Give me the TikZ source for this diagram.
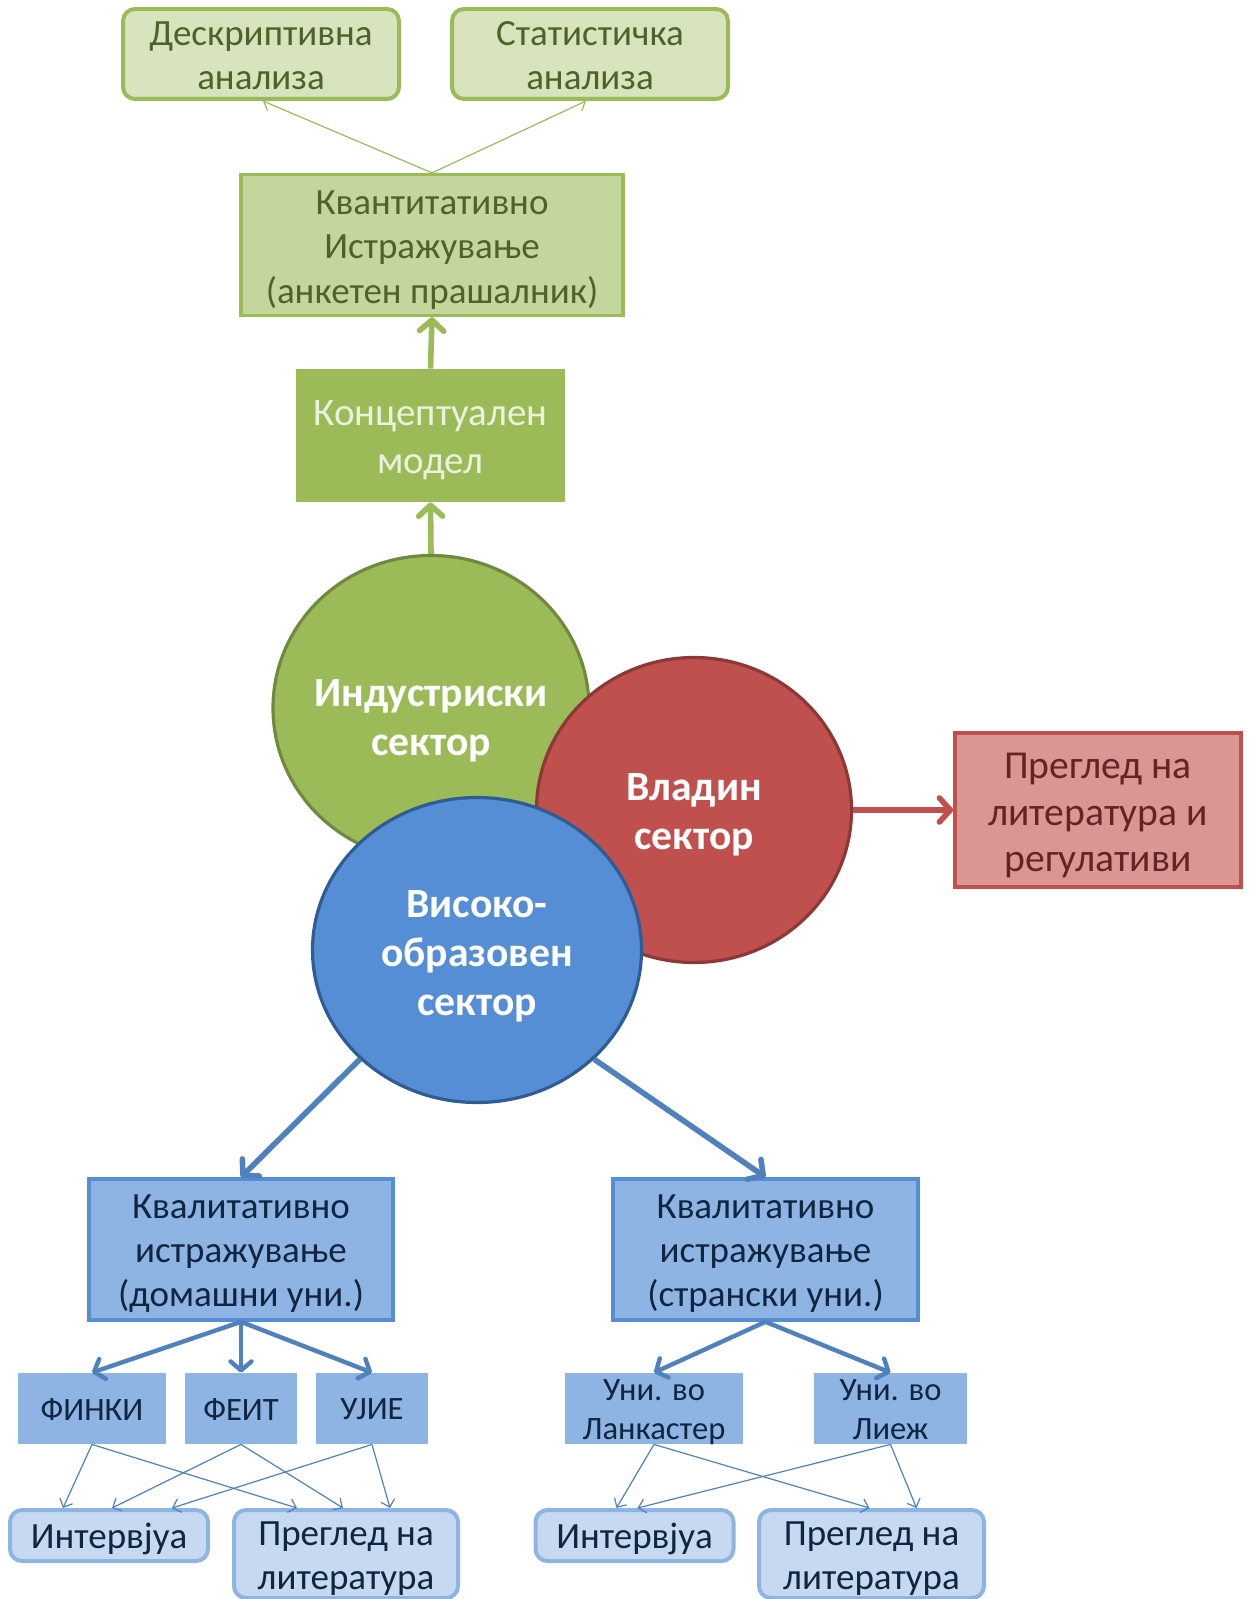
\documentclass[tikz,border=0pt]{standalone}
\usepackage{fontspec}
\setmainfont{Carlito}
\usetikzlibrary{arrows.meta,shapes.geometric,calc}

\definecolor{grnFill}{HTML}{9BBB59}
\definecolor{grnEdge}{HTML}{71893F}
\definecolor{grnMid}{HTML}{C3D69B}
\definecolor{grnLight}{HTML}{D7E4BD}
\definecolor{grnText}{HTML}{4F6228}
\definecolor{grnPale}{HTML}{EBF1DE}
\definecolor{redFill}{HTML}{C0504D}
\definecolor{redEdge}{HTML}{8C3836}
\definecolor{redLight}{HTML}{D99694}
\definecolor{redText}{HTML}{632523}
\definecolor{bluFill}{HTML}{558ED5}
\definecolor{bluEdge}{HTML}{2F5C92}
\definecolor{bluBox}{HTML}{8EB4E3}
\definecolor{bluLight}{HTML}{C6D9F1}
\definecolor{bluLine}{HTML}{4F81BD}
\definecolor{bluText}{HTML}{10253F}

\tikzset{
  % shapes (text is set in separate nodes so it can sit a little low, as in slides)
  shp/.style={inner sep=0pt},
  topbox/.style={shp, draw=grnFill, fill=grnLight, line width=2pt, rounded corners=6pt,
    minimum width=138pt, minimum height=45pt},
  quantbox/.style={shp, draw=grnFill, fill=grnMid, line width=1.6pt,
    minimum width=191pt, minimum height=70.5pt},
  conceptbox/.style={shp, fill=grnFill, minimum width=134.5pt, minimum height=66.5pt},
  sector/.style={shp, ellipse, line width=1.6pt},
  redbox/.style={shp, draw=redFill, fill=redLight, line width=1.8pt,
    minimum width=143pt, minimum height=77pt},
  qualbox/.style={shp, draw=bluFill, fill=bluBox, line width=1.8pt,
    minimum width=152pt, minimum height=70.5pt},
  unibox/.style={shp, fill=bluBox, minimum height=35.5pt},
  leafbox/.style={shp, draw=bluBox, fill=bluLight, line width=2pt, rounded corners=6pt,
    minimum width=99pt},
  % texts
  txt/.style={align=center, inner sep=0pt},
  grntxt/.style={txt, text=grnText, font=\fontsize{18.5}{22}\selectfont},
  concepttxt/.style={txt, text=grnPale, font=\fontsize{19.5}{24}\selectfont},
  sectortxt/.style={txt, text=white, font=\fontsize{20.8}{24.5}\selectfont\bfseries},
  redtxt/.style={txt, text=redText, font=\fontsize{19.8}{23.2}\selectfont},
  blutxt/.style={txt, text=bluText, font=\fontsize{18.5}{22}\selectfont},
  unitxt/.style={txt, text=bluText, font=\fontsize{16.3}{19.5}\selectfont},
  % connectors
  thickarrow/.style={line width=2.8pt, -{Straight Barb[length=5.5pt,width=12pt,round]}},
  midarrow/.style={line width=2.2pt, -{Straight Barb[length=4.5pt,width=10.5pt,round]}},
  thinarrow/.style={line width=0.6pt, -{Straight Barb[length=3.5pt,width=7pt]}},
}

\begin{document}
\begin{tikzpicture}[x=0.5pt, y=-0.5pt]
  \useasboundingbox (0,0) rectangle (1249,1599);

  % quantitative branch
  \node[topbox] (desc) at (261,54) {};
  \node[grntxt] (desc-t) at ($(desc)+(0,2)$) {Дескриптивна\\анализа};
  \node[topbox] (stat) at (590,54) {};
  \node[grntxt] (stat-t) at ($(stat)+(0,2)$) {Статистичка\\анализа};
  \node[quantbox] (quant) at (432,245) {};
  \node[grntxt, font=\fontsize{18.5}{22.2}\selectfont] (quant-t) at ($(quant)+(0,5)$)
    {Квантитативно\\Истражување\\(анкетен прашалник)};
  \node[conceptbox] (concept) at (430.5,435.5) {};
  \node[concepttxt] (concept-t) at ($(concept)+(0,5)$) {Концептуален\\модел};

  % the three sectors
  \node[sector, fill=grnFill, draw=grnEdge, minimum width=158pt, minimum height=152.5pt]
    (ind) at (431,708) {};
  \node[sectortxt] (ind-t) at ($(ind)+(0,13)$) {Индустриски\\сектор};
  \node[sector, fill=redFill, draw=redEdge, minimum width=157.5pt, minimum height=152.5pt]
    (gov) at (694,810) {};
  \node[sectortxt] (gov-t) at ($(gov)+(0,5)$) {Владин\\сектор};
  \node[sector, fill=bluFill, draw=bluEdge, minimum width=164.5pt, minimum height=152.5pt]
    (edu) at (477,950) {};
  \node[sectortxt] (edu-t) at ($(edu)+(0,6)$) {Високо-\\образовен\\сектор};

  % government branch
  \node[redbox] (regs) at (1098,810) {};
  \node[redtxt] (regs-t) at ($(regs)+(0,5.5)$) {Преглед на\\литература и\\регулативи};

  % qualitative branches
  \node[qualbox] (dom) at (241,1249.5) {};
  \node[blutxt] (dom-t) at ($(dom)+(0,4)$) {Квалитативно\\истражување\\(домашни уни.)};
  \node[qualbox, minimum width=152.5pt] (str) at (765.5,1249.5) {};
  \node[blutxt] (str-t) at ($(str)+(0,4)$) {Квалитативно\\истражување\\(странски уни.)};

  \node[unibox, minimum width=74pt] (finki) at (92,1408.5) {};
  \node[unitxt] (finki-t) at ($(finki)+(0,1)$) {ФИНКИ};
  \node[unibox, minimum width=56pt] (feit) at (241,1408.5) {};
  \node[unitxt] (feit-t) at ($(feit)+(0,1)$) {ФЕИТ};
  \node[unibox, minimum width=56pt] (ujie) at (372,1408.5) {};
  \node[unitxt] (ujie-t) at ($(ujie)+(0,1)$) {УЈИЕ};
  \node[unibox, minimum width=89pt] (lanc) at (654,1408.5) {};
  \node[unitxt] (lanc-t) at ($(lanc)+(0,4)$) {Уни. во\\Ланкастер};
  \node[unibox, minimum width=76.5pt] (liege) at (890.5,1408.5) {};
  \node[unitxt] (liege-t) at ($(liege)+(0,1.5)$) {Уни. во\\Лиеж};

  \node[leafbox, minimum height=25.5pt] (int1) at (109,1535.5) {};
  \node[blutxt] (int1-t) at ($(int1)+(0,3)$) {Интервјуа};
  \node[leafbox, minimum width=112pt, minimum height=44pt] (pre1) at (346,1554) {};
  \node[blutxt] (pre1-t) at ($(pre1)+(0,5)$) {Преглед на\\литература};
  \node[leafbox, minimum height=25.5pt] (int2) at (634.5,1535.5) {};
  \node[blutxt] (int2-t) at ($(int2)+(0,3)$) {Интервјуа};
  \node[leafbox, minimum width=112.5pt, minimum height=44pt] (pre2) at (871.5,1554) {};
  \node[blutxt] (pre2-t) at ($(pre2)+(0,5)$) {Преглед на\\литература};

  % connectors, green
  \draw[thickarrow, draw=grnFill] (ind.north) -- (concept.south);
  \draw[thickarrow, draw=grnFill] (concept.north) -- (quant.south);
  \draw[thinarrow, draw=grnFill] (quant.north) -- ($(desc.south)+(2,0)$);
  \draw[thinarrow, draw=grnFill] (quant.north) -- ($(stat.south)+(-4,0)$);

  % connector, red
  \draw[thickarrow, draw=redFill] (gov.east) -- (regs.west);

  % connectors, blue
  \draw[thickarrow, draw=bluLine] (edu.223) -- (dom.north);
  \draw[thickarrow, draw=bluLine] (edu.317) -- (str.north);
  \draw[midarrow, draw=bluLine] (dom.south) -- (finki.north);
  \draw[midarrow, draw=bluLine] (dom.south) -- (feit.north);
  \draw[midarrow, draw=bluLine] (dom.south) -- (ujie.north);
  \draw[midarrow, draw=bluLine] (str.south) -- (lanc.north);
  \draw[midarrow, draw=bluLine] (str.south) -- (liege.north);

  \draw[thinarrow, draw=bluLine] (finki.south) -- ($(int1.north)+(-46,0)$);
  \draw[thinarrow, draw=bluLine] (finki.south) -- ($(pre1.north)+(-49,0)$);
  \draw[thinarrow, draw=bluLine] (feit.south) -- ($(int1.north)+(3,0)$);
  \draw[thinarrow, draw=bluLine] (feit.south) -- ($(pre1.north)+(-3,0)$);
  \draw[thinarrow, draw=bluLine] (ujie.south) -- ($(int1.north)+(63,0)$);
  \draw[thinarrow, draw=bluLine] (ujie.south) -- ($(pre1.north)+(44,0)$);
  \draw[thinarrow, draw=bluLine] (lanc.south) -- ($(int2.north)+(-18,0)$);
  \draw[thinarrow, draw=bluLine] (lanc.south) -- ($(pre2.north)+(-2,0)$);
  \draw[thinarrow, draw=bluLine] (liege.south) -- ($(int2.north)+(3,0)$);
  \draw[thinarrow, draw=bluLine] (liege.south) -- ($(pre2.north)+(45,0)$);
\end{tikzpicture}
\end{document}
